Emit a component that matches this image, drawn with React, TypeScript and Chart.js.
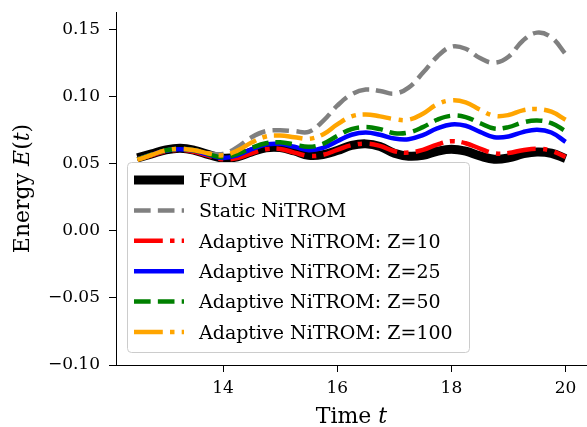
import { useEffect, useRef } from 'react';
import { Chart, registerables } from 'chart.js';

Chart.register(...registerables);

const TIME = [12.5, 12.75, 13, 13.25, 13.5, 13.75, 14, 14.25, 14.5, 14.75, 15, 15.25, 15.5, 15.75, 16, 16.25, 16.5, 16.75, 17, 17.25, 17.5, 17.75, 18, 18.25, 18.5, 18.75, 19, 19.25, 19.5, 19.75, 20];

const FOM = [0.0545, 0.0575, 0.0605, 0.0617, 0.0602, 0.0570, 0.0543, 0.0553, 0.0590, 0.0620, 0.0622, 0.0597, 0.0565, 0.0570, 0.0600, 0.0638, 0.0650, 0.0630, 0.0580, 0.0558, 0.0565, 0.0595, 0.0610, 0.0595, 0.0560, 0.0535, 0.0545, 0.0575, 0.0590, 0.0580, 0.0540];
const STATIC_NITROM = [0.0535, 0.0568, 0.0600, 0.0612, 0.0602, 0.0580, 0.0575, 0.0625, 0.0700, 0.0745, 0.0752, 0.0745, 0.0740, 0.0820, 0.0935, 0.1020, 0.1055, 0.1045, 0.1025, 0.1070, 0.1180, 0.1300, 0.1375, 0.1360, 0.1290, 0.1255, 0.1300, 0.1420, 0.1480, 0.1445, 0.1320];
const Z10 = [0.0535, 0.0565, 0.0595, 0.0605, 0.0590, 0.0560, 0.0535, 0.0545, 0.0580, 0.0610, 0.0612, 0.0585, 0.0560, 0.0568, 0.0605, 0.0640, 0.0652, 0.0635, 0.0595, 0.0585, 0.0605, 0.0645, 0.0670, 0.0655, 0.0615, 0.0580, 0.0582, 0.0603, 0.0614, 0.0598, 0.0552];
const Z25 = [0.0535, 0.0570, 0.0600, 0.0610, 0.0598, 0.0568, 0.0545, 0.0565, 0.0610, 0.0645, 0.0650, 0.0628, 0.0603, 0.0620, 0.0670, 0.0718, 0.0735, 0.0718, 0.0690, 0.0685, 0.0715, 0.0765, 0.0795, 0.0785, 0.0740, 0.0700, 0.0705, 0.0738, 0.0755, 0.0735, 0.0665];
const Z50 = [0.0535, 0.0570, 0.0602, 0.0612, 0.0600, 0.0572, 0.0550, 0.0575, 0.0620, 0.0655, 0.0662, 0.0645, 0.0628, 0.0650, 0.0710, 0.0760, 0.0775, 0.0760, 0.0730, 0.0735, 0.0775, 0.0830, 0.0860, 0.0850, 0.0805, 0.0765, 0.0775, 0.0810, 0.0825, 0.0805, 0.0745];
const Z100 = [0.0530, 0.0568, 0.0602, 0.0612, 0.0602, 0.0578, 0.0565, 0.0600, 0.0660, 0.0705, 0.0712, 0.0700, 0.0688, 0.0720, 0.0795, 0.0855, 0.0870, 0.0855, 0.0835, 0.0830, 0.0875, 0.0945, 0.0975, 0.0960, 0.0905, 0.0860, 0.0865, 0.0900, 0.0910, 0.0890, 0.0830];

const SERIES_LABELS = ['FOM', 'Static NiTROM', 'Adaptive NiTROM: Z=10', 'Adaptive NiTROM: Z=25', 'Adaptive NiTROM: Z=50', 'Adaptive NiTROM: Z=100'];
const X_TICKS = [14, 16, 18, 20];
const Y_TICKS = [-0.1, -0.05, 0, 0.05, 0.1, 0.15];
const X_TITLE = [{ t: 'Time ', i: false }, { t: 't', i: true }];
const Y_TITLE = [{ t: 'Energy ', i: false }, { t: 'E', i: true }, { t: '(', i: false }, { t: 't', i: true }, { t: ')', i: false }];

const FONT = '"DejaVu Serif", serif';
const LW = 4.5;
const DASH = [3.7 * LW, 1.6 * LW];
const DASHDOT = [6.4 * LW, 1.6 * LW, 1 * LW, 1.6 * LW];

function drawMixed(ctx: CanvasRenderingContext2D, parts: { t: string; i: boolean }[], cx: number, y: number, size: number) {
  const fontFor = (it: boolean) => `${it ? 'italic ' : ''}${size}px ${FONT}`;
  let total = 0;
  for (const p of parts) {
    ctx.font = fontFor(p.i);
    total += ctx.measureText(p.t).width;
  }
  let x = cx - total / 2;
  for (const p of parts) {
    ctx.font = fontFor(p.i);
    ctx.fillText(p.t, x, y);
    x += ctx.measureText(p.t).width;
  }
}

const titlesPlugin = {
  id: 'mixedTitles',
  afterDraw(chart: any) {
    const { ctx, chartArea } = chart;
    ctx.save();
    ctx.fillStyle = '#000';
    ctx.textBaseline = 'alphabetic';
    ctx.textAlign = 'left';
    drawMixed(ctx, X_TITLE, (chartArea.left + chartArea.right) / 2, 423, 22);
    ctx.translate(28.5, (chartArea.top + chartArea.bottom) / 2);
    ctx.rotate(-Math.PI / 2);
    drawMixed(ctx, Y_TITLE, 0, 0, 22);
    ctx.restore();
  },
};

const legendPlugin = {
  id: 'boxLegend',
  afterDatasetsDraw(chart: any) {
    const ctx = chart.ctx as CanvasRenderingContext2D;
    ctx.save();
    ctx.beginPath();
    (ctx as any).roundRect(127.5, 162.5, 342, 190, 4);
    ctx.fillStyle = 'rgba(255,255,255,0.8)';
    ctx.fill();
    ctx.strokeStyle = '#cccccc';
    ctx.lineWidth = 1;
    ctx.stroke();
    chart.data.datasets.forEach((ds: any, i: number) => {
      const y = 180 + i * 30.4;
      ctx.beginPath();
      ctx.setLineDash(ds.borderDash || []);
      ctx.lineDashOffset = 0;
      ctx.lineWidth = ds.borderWidth;
      ctx.strokeStyle = ds.borderColor;
      ctx.lineCap = 'butt';
      ctx.moveTo(134, y);
      ctx.lineTo(184, y);
      ctx.stroke();
      ctx.setLineDash([]);
      ctx.fillStyle = '#000';
      ctx.font = `19px ${FONT}`;
      ctx.textBaseline = 'alphabetic';
      ctx.textAlign = 'left';
      ctx.fillText(ds.label, 199, y + 6.7);
    });
    ctx.restore();
  },
};

export default function App() {
  const ref = useRef<HTMLCanvasElement>(null);
  useEffect(() => {
    if (!ref.current) return;
    const mk = (vals: number[]) => TIME.map((t, i) => ({ x: t, y: vals[i] }));
    const base = { pointRadius: 0, pointHoverRadius: 0, tension: 0.4, fill: false, borderCapStyle: 'butt', borderJoinStyle: 'round' };
    const chart = new Chart(ref.current, {
      type: 'line',
      data: {
        datasets: [
          { ...base, label: SERIES_LABELS[0], data: mk(FOM), borderColor: '#000000', borderWidth: 9, borderDash: [], order: 6 },
          { ...base, label: SERIES_LABELS[1], data: mk(STATIC_NITROM), borderColor: '#808080', borderWidth: LW, borderDash: DASH, order: 5 },
          { ...base, label: SERIES_LABELS[2], data: mk(Z10), borderColor: '#ff0000', borderWidth: LW, borderDash: DASHDOT, order: 4 },
          { ...base, label: SERIES_LABELS[3], data: mk(Z25), borderColor: '#0000ff', borderWidth: LW, borderDash: [], order: 3 },
          { ...base, label: SERIES_LABELS[4], data: mk(Z50), borderColor: '#008000', borderWidth: LW, borderDash: DASH, order: 2 },
          { ...base, label: SERIES_LABELS[5], data: mk(Z100), borderColor: '#ffa500', borderWidth: LW, borderDash: DASHDOT, order: 1 },
        ] as any,
      },
      options: {
        animation: false,
        responsive: false,
        devicePixelRatio: 1,
        layout: { padding: { top: 12, right: 0, left: 0, bottom: 0 } },
        plugins: { legend: { display: false }, tooltip: { enabled: false } },
        scales: {
          x: {
            type: 'linear',
            min: 12.125,
            max: 20.375,
            afterBuildTicks: (s: any) => { s.ticks = X_TICKS.map((v) => ({ value: v })); },
            afterFit: (s: any) => { s.height = 62; s.paddingLeft = 0; s.paddingRight = 0; },
            ticks: { color: '#000', font: { family: FONT, size: 17 }, padding: 6, maxRotation: 0, callback: (v: any) => String(v) },
            grid: { display: true, drawOnChartArea: false, drawTicks: true, tickLength: 7, color: '#000', lineWidth: 1 },
            border: { display: true, color: '#000', width: 1 },
          },
          y: {
            type: 'linear',
            min: -0.1,
            max: 0.1634,
            afterBuildTicks: (s: any) => { s.ticks = Y_TICKS.map((v) => ({ value: v })); },
            afterFit: (s: any) => { s.width = 116; s.paddingTop = 0; s.paddingBottom = 0; },
            ticks: {
              color: '#000', font: { family: FONT, size: 17 }, padding: 9,
              callback: (v: any) => (v < -1e-9 ? '\u2212' : '') + Math.abs(v).toFixed(2),
            },
            grid: { display: true, drawOnChartArea: false, drawTicks: true, tickLength: 7, color: '#000', lineWidth: 1 },
            border: { display: true, color: '#000', width: 1 },
          },
        },
      } as any,
      plugins: [legendPlugin, titlesPlugin],
    });
    return () => chart.destroy();
  }, []);
  return (
    <div style={{ position: 'absolute', left: 0, top: 0, width: 587, height: 427, background: '#fff' }}>
      <canvas ref={ref} width={587} height={427} />
    </div>
  );
}
